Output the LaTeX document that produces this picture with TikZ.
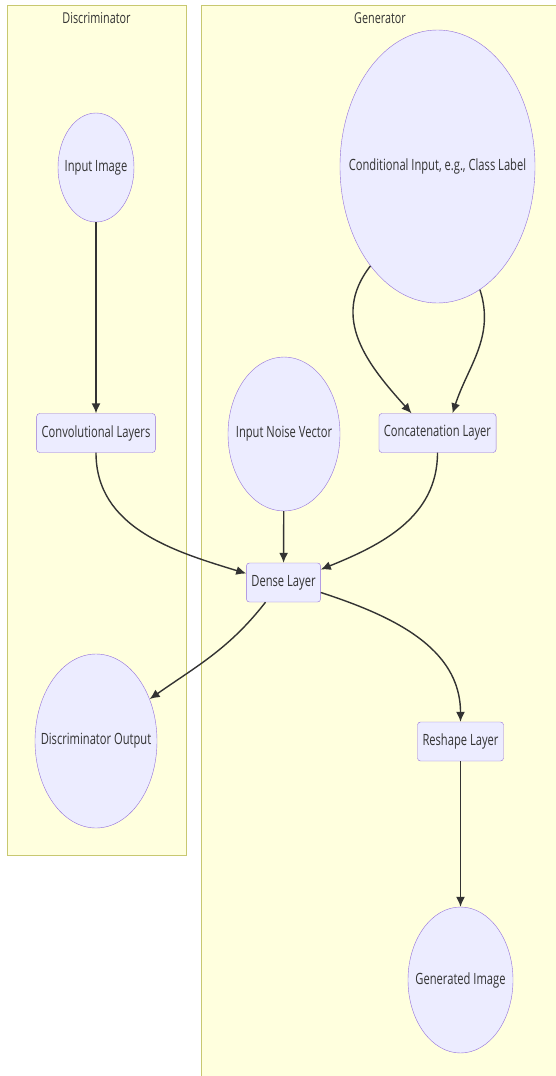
\documentclass[tikz,border=0pt]{standalone}
\usepackage{fontspec}
\setmainfont{Open Sans}[FakeStretch=0.72]
\usetikzlibrary{arrows.meta,positioning,shapes.geometric}
\definecolor{mmNode}{HTML}{ECECFF}
\definecolor{mmBorder}{HTML}{9370DB}
\definecolor{mmCluster}{HTML}{FFFFDE}
\definecolor{mmClusterBorder}{HTML}{C8C870}
\definecolor{mmEdge}{HTML}{333333}

\begin{document}
\begin{tikzpicture}[
  x=1pt,y=-1pt,
  cluster/.style={draw=mmClusterBorder,fill=mmCluster,line width=0.9pt,inner sep=0pt},
  title/.style={font=\fontsize{15}{18}\selectfont,text=mmEdge},
  layer/.style={draw=mmBorder,fill=mmNode,rounded corners=3pt,minimum height=39pt,inner xsep=5pt,font=\fontsize{15.5}{18}\selectfont,text=mmEdge},
  blob/.style={ellipse,draw=mmBorder,fill=mmNode,inner sep=0pt},
  blobtext/.style={font=\fontsize{15.5}{18}\selectfont,text=mmEdge,inner sep=0pt}
]
  \tikzset{flow/.style={-{Latex[length=10pt,width=9pt]},line width=1.4pt,mmEdge}}
  \useasboundingbox (0,0) rectangle (556,1076);
  % subgraphs
  \node[cluster,minimum width=179pt,minimum height=850pt] (disc) at (96.5,430) {};
  \node[cluster,minimum width=357pt,minimum height=1074pt] (gen) at (379.5,542) {};
  \node[title] (disctitle) at (96.5,18) {Discriminator};
  \node[title] (gentitle) at (380,18) {Generator};
  % discriminator
  \node[blob,minimum width=76pt,minimum height=109pt,label={[blobtext]center:Input Image}] (inimg) at (96,167.5) {};
  \node[layer] (conv) at (96,433) {Convolutional Layers};
  \node[blob,minimum width=122pt,minimum height=174pt,label={[blobtext]center:Discriminator Output}] (discout) at (96,741) {};
  % generator
  \node[blob,minimum width=195pt,minimum height=273pt,label={[blobtext]center:Conditional Input, e.g., Class Label}] (cond) at (437.5,166.5) {};
  \node[blob,minimum width=112pt,minimum height=154pt,label={[blobtext]center:Input Noise Vector}] (noise) at (284,434) {};
  \node[layer] (concat) at (437.5,433) {Concatenation Layer};
  \node[layer] (dense) at (283.5,582.5) {Dense Layer};
  \node[layer] (reshape) at (460.5,741.5) {Reshape Layer};
  \node[blob,minimum width=105pt,minimum height=146pt,label={[blobtext]center:Generated Image}] (genimg) at (460.5,980) {};
  % edges
  \draw[flow] (inimg) -- (conv);
  \draw[flow] (cond.236) to[out=-128,in=132,looseness=1.1] ([xshift=-26pt]concat.north);
  \draw[flow] (cond.289) to[out=-72,in=72] ([xshift=15pt]concat.north);
  \draw[flow] (conv.south) to[out=-90,in=163] ([yshift=9pt]dense.west);
  \draw[flow] (noise) -- (dense);
  \draw[flow] (concat.south) to[out=-90,in=22] ([yshift=13pt]dense.east);
  \draw[flow] ([xshift=-18pt]dense.south) to[out=-128,in=35] (discout.38);
  \draw[flow] ([yshift=-10pt]dense.east) to[out=-18,in=90] (reshape.north);
  \draw[flow] (reshape) -- (genimg);
\end{tikzpicture}
\end{document}
